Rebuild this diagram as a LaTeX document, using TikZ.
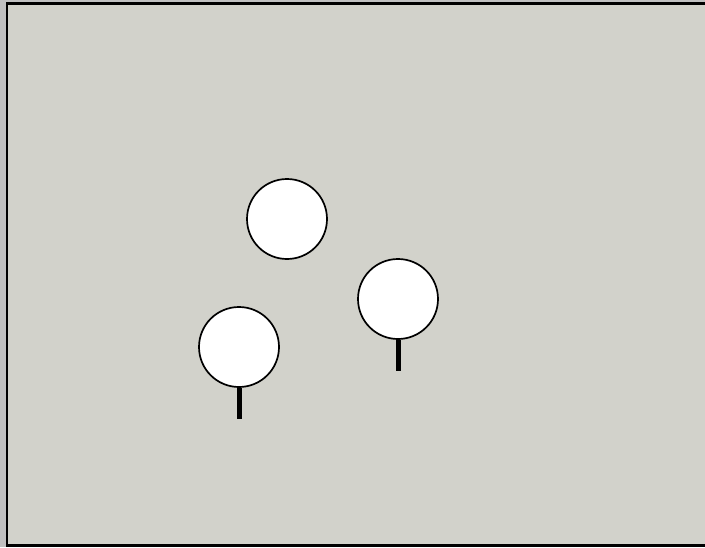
\documentclass[tikz,border=0pt]{standalone}
\usetikzlibrary{positioning}
\definecolor{cOuter}{HTML}{C0C0C0}
\definecolor{cGround}{HTML}{D2D2CB}
\tikzset{
  crown/.style={circle,fill=white,draw=black,line width=1.7pt,inner sep=0pt,minimum size=80pt},
  trunk/.style={line width=5pt,black},
  frame/.style={draw=black,line width=2.4pt,fill=cGround},
}

\begin{document}
\begin{tikzpicture}[x=1pt,y=-1pt]
  \useasboundingbox (0,0) rectangle (705,547);
  \fill[cOuter] (0,0) rectangle (705,547);
  \draw[frame] (7,3.5) rectangle (712,545.5);
  % crowns
  \node[crown] (top) at (287,219) {};
  \node[crown] (right) at (398,299) {};
  \node[crown] (left) at (239,347) {};
  % trunks
  \coordinate (rfoot) at (398,371);
  \coordinate (lfoot) at (239,419);
  \draw[trunk] (right.south)--(rfoot);
  \draw[trunk] (left.south)--(lfoot);
\end{tikzpicture}
\end{document}
